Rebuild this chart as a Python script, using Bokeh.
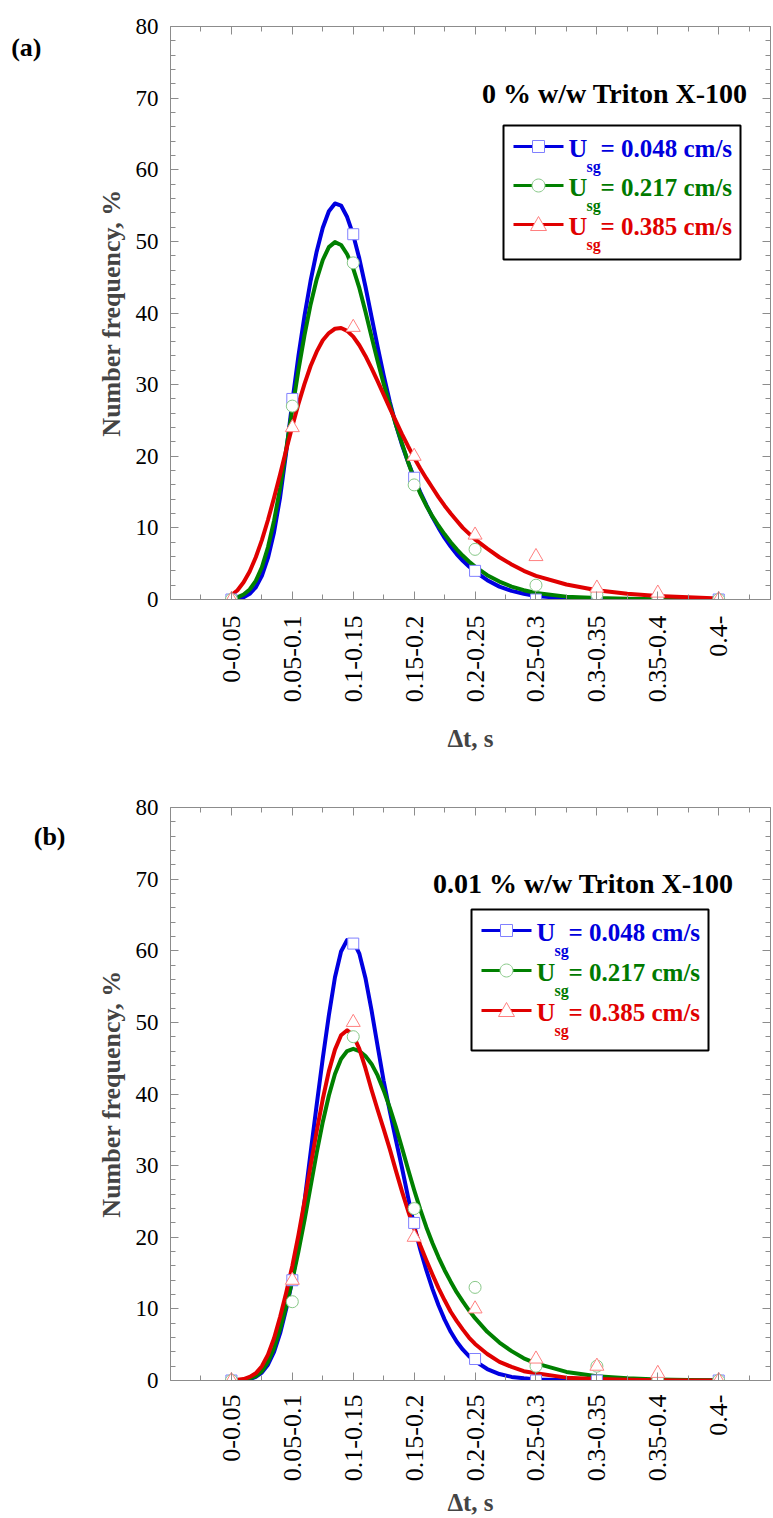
import math
from bokeh.plotting import figure
from bokeh.models import (Range1d, FixedTicker, SingleIntervalTicker, LinearAxis, Label,
                          BoxAnnotation, PolyAnnotation, Arrow)
from bokeh.layouts import column
from bokeh.embed import file_html
from bokeh.resources import INLINE

# ---------------- data ----------------
categories = ["0-0.05", "0.05-0.1", "0.1-0.15", "0.15-0.2", "0.2-0.25",
              "0.25-0.3", "0.3-0.35", "0.35-0.4", "0.4-"]
cat_pos = [1, 2, 3, 4, 5, 6, 7, 8, 9]

series_names = ["0.048", "0.217", "0.385"]

# measured number frequency (%) - panel (a), 0 % w/w Triton X-100
a_blue_pts = [0, 28, 51, 17, 4, 0, 0, 0, 0]
a_green_pts = [0, 27, 47, 16, 7, 2, 0.7, 0, 0]
a_red_pts = [0, 24, 38, 20, 9, 6, 1.6, 0.9, 0]

# measured number frequency (%) - panel (b), 0.01 % w/w Triton X-100
b_blue_pts = [0, 14, 61, 22, 3, 0, 0, 0, 0]
b_green_pts = [0, 11, 48, 24, 13, 2, 2, 0, 0]
b_red_pts = [0, 14, 50, 20, 10, 3, 2, 1, 0]

# fitted curves (x in category positions)
curve_x = [1.0, 1.1, 1.2, 1.3, 1.4, 1.5, 1.6, 1.7, 1.8, 1.9,
           2.0, 2.1, 2.2, 2.3, 2.4, 2.5, 2.6, 2.7, 2.8, 2.9,
           3.0, 3.1, 3.2, 3.3, 3.4, 3.5, 3.6, 3.7, 3.8, 3.9,
           4.0, 4.1, 4.2, 4.3, 4.4, 4.5, 4.6, 4.7, 4.8, 4.9,
           5.0, 5.2, 5.4, 5.6, 5.8, 6.0, 6.5, 7.0, 7.5, 8.0, 8.5, 9.0]

a_blue_fit = [0.0, 0.1, 0.3, 0.8, 1.7, 3.3, 5.8, 9.4, 14.3, 20.6,
              27.6, 34.0, 39.6, 44.5, 48.6, 51.9, 54.2, 55.3, 55.0, 53.4,
              50.9, 47.6, 43.7, 39.5, 35.3, 31.3, 27.6, 24.4, 21.6, 19.2,
              17.0, 15.0, 13.2, 11.5, 10.0, 8.6, 7.4, 6.3, 5.4, 4.6,
              3.9, 2.7, 1.8, 1.2, 0.8, 0.5, 0.15, 0.05, 0.0, 0.0, 0.0, 0.0]
a_green_fit = [0.2, 0.3, 0.7, 1.4, 2.6, 4.5, 7.3, 11.0, 15.6, 21.0,
               26.6, 32.0, 36.9, 41.2, 44.7, 47.4, 49.2, 49.9, 49.5, 48.2,
               46.2, 43.5, 40.2, 36.7, 33.3, 30.1, 27.2, 24.4, 21.8, 19.2,
               16.8, 14.8, 13.1, 11.6, 10.3, 9.1, 8.0, 7.0, 6.1, 5.3,
               4.6, 3.4, 2.5, 1.8, 1.3, 0.9, 0.4, 0.2, 0.1, 0.05, 0.02, 0.0]
a_red_fit = [0.6, 1.3, 2.4, 3.9, 5.9, 8.3, 11.1, 14.2, 17.5, 20.9,
             24.2, 27.3, 30.1, 32.6, 34.6, 36.2, 37.2, 37.8, 37.9, 37.5,
             36.7, 35.5, 34.0, 32.3, 30.5, 28.6, 26.7, 24.9, 23.1, 21.4,
             19.8, 18.3, 16.9, 15.6, 14.3, 13.1, 12.0, 11.0, 10.0, 9.2,
             8.4, 7.1, 5.9, 4.9, 4.0, 3.3, 2.1, 1.3, 0.8, 0.5, 0.3, 0.15]

b_blue_fit = [0.0, 0.0, 0.1, 0.2, 0.5, 1.1, 2.2, 4.0, 6.6, 10.0,
              14.0, 19.0, 25.0, 31.8, 38.5, 45.0, 51.0, 56.3, 59.9, 61.5,
              61.3, 59.6, 56.2, 51.7, 46.7, 41.8, 37.6, 33.6, 29.7, 25.6,
              21.6, 18.3, 15.4, 12.8, 10.5, 8.5, 6.8, 5.4, 4.3, 3.4,
              2.7, 1.6, 0.9, 0.5, 0.3, 0.15, 0.05, 0.0, 0.0, 0.0, 0.0, 0.0]
b_green_fit = [0.0, 0.0, 0.1, 0.3, 0.6, 1.3, 2.6, 4.5, 7.2, 10.4,
               14.0, 18.0, 22.4, 27.1, 31.8, 36.1, 39.8, 42.8, 44.9, 46.0,
               46.3, 46.0, 45.3, 44.2, 42.6, 40.5, 38.1, 35.4, 32.5, 29.5,
               26.6, 23.9, 21.4, 19.2, 17.2, 15.4, 13.8, 12.3, 11.0, 9.8,
               8.7, 6.8, 5.3, 4.1, 3.1, 2.4, 1.2, 0.6, 0.3, 0.15, 0.08, 0.04]
b_red_fit = [0.0, 0.1, 0.2, 0.5, 1.0, 2.0, 3.6, 5.9, 8.9, 12.3,
             16.0, 20.3, 25.0, 30.0, 34.8, 39.3, 43.2, 46.2, 48.2, 48.9,
             48.2, 46.3, 43.6, 40.6, 37.8, 35.1, 32.3, 29.3, 26.4, 23.7,
             21.2, 18.9, 16.8, 14.8, 12.9, 11.2, 9.6, 8.3, 7.1, 6.0,
             5.1, 3.7, 2.6, 1.9, 1.3, 1.0, 0.4, 0.2, 0.1, 0.05, 0.0, 0.0]

# ---------------- style ----------------
FONT = "Liberation Serif"
AXC = "#8c8c8c"
X_END = 9.85
FRAME_W, FRAME_H = 600, 573
LINE_COLORS = ["#0000e0", "#008000", "#e00000"]
TEXT_COLORS = ["#0000dd", "#007a00", "#e00000"]
EDGE_COLORS = ["#8080ff", "#88c888", "#ff8080"]
MARKERS = ["square", "circle", "triangle"]
MSIZES = [11, 12, 14]


def dx(px):
    """pixel offset from frame left -> data x"""
    return px * X_END / FRAME_W


def dy(py):
    """pixel offset below frame top -> data y"""
    return 80.0 * (FRAME_H - py) / FRAME_H


def style_axis(ax, ticker, labels):
    ax.ticker = ticker
    ax.axis_line_color = AXC
    ax.major_tick_line_color = AXC
    ax.minor_tick_line_color = AXC
    ax.major_tick_in = 8
    ax.major_tick_out = 0
    ax.minor_tick_in = 5
    ax.minor_tick_out = 0
    if not labels:
        ax.major_label_text_font_size = "0px"
        ax.major_label_standoff = 0
        ax.major_label_text_color = None
    else:
        ax.major_label_text_font = FONT
        ax.major_label_text_color = "black"


def x_ticker():
    return FixedTicker(ticks=cat_pos, minor_ticks=[c - 0.5 for c in cat_pos] + [cat_pos[-1] + 0.5])


def y_ticker():
    return SingleIntervalTicker(interval=10, num_minor_ticks=5)


def make_panel(tag, title, pts, fits, top_border, bottom_border, lay):
    p = figure(frame_width=FRAME_W, frame_height=FRAME_H,
               x_range=Range1d(0, X_END), y_range=Range1d(0, 80),
               output_backend="svg", toolbar_location=None,
               min_border_left=170, min_border_right=3,
               min_border_top=top_border, min_border_bottom=bottom_border,
               background_fill_color="white", border_fill_color="white",
               outline_line_color=None)
    p.grid.visible = False

    xa = p.xaxis[0]
    style_axis(xa, x_ticker(), True)
    xa.major_label_overrides = {c: lab for c, lab in zip(cat_pos, categories)}
    xa.major_label_orientation = math.pi / 2
    xa.major_label_text_font_size = "26px"
    xa.major_label_standoff = lay["xlab_standoff"]
    xa.axis_label = "Δt, s"
    xa.axis_label_text_font = FONT
    xa.axis_label_text_font_style = "bold"
    xa.axis_label_text_font_size = "25px"
    xa.axis_label_standoff = lay["xaxis_label_standoff"]

    ya = p.yaxis[0]
    style_axis(ya, y_ticker(), True)
    ya.major_label_text_font_size = "23px"
    ya.major_label_standoff = 12
    ya.axis_label = "Number frequency, %"
    ya.axis_label_text_font = FONT
    ya.axis_label_text_font_style = "bold"
    ya.axis_label_text_font_size = "26px"
    ya.axis_label_standoff = 7

    # panel tag "(a)" / "(b)" placed as the single label of an extra, bare left axis
    tag_ax = LinearAxis(ticker=FixedTicker(ticks=[lay["tag_y"]]),
                        major_label_overrides={lay["tag_y"]: tag})
    tag_ax.axis_line_color = None
    tag_ax.major_tick_line_color = None
    tag_ax.minor_tick_line_color = None
    tag_ax.major_tick_in = 0
    tag_ax.major_tick_out = 0
    tag_ax.major_label_text_font = FONT
    tag_ax.major_label_text_font_style = "bold"
    tag_ax.major_label_text_font_size = "26px"
    tag_ax.major_label_text_color = "black"
    tag_ax.major_label_standoff = lay["tag_standoff"]
    p.add_layout(tag_ax, "left")

    top_ax = LinearAxis()
    style_axis(top_ax, x_ticker(), False)
    p.add_layout(top_ax, "above")
    right_ax = LinearAxis()
    style_axis(right_ax, y_ticker(), False)
    p.add_layout(right_ax, "right")

    for fit, col in zip(fits, LINE_COLORS):
        p.line(curve_x, fit, line_color=col, line_width=4, line_join="round", line_cap="round")
    for vals, mk, sz, edge in zip(pts, MARKERS, MSIZES, EDGE_COLORS):
        p.scatter(cat_pos, vals, marker=mk, size=sz, fill_color="white",
                  line_color=edge, line_width=1)

    # title
    p.add_layout(Label(x=dx(lay["title_x"]), y=dy(lay["title_y"]), text=title,
                       text_font=FONT, text_font_style="bold", text_font_size="28px",
                       text_align="right", text_baseline="middle", text_color="black"))

    # legend box
    L = lay["box_l"]
    p.add_layout(BoxAnnotation(left=dx(L), right=dx(L + 237),
                               top=dy(lay["box_t"]), bottom=dy(lay["box_b"]),
                               fill_color="white", fill_alpha=1.0,
                               line_color="black", line_width=2, line_alpha=1.0))
    for i, (name, lc, tc, ec) in enumerate(zip(series_names, LINE_COLORS, TEXT_COLORS, EDGE_COLORS)):
        ey = lay["entry0"] + i * lay["entry_step"]
        ly = ey - 2
        p.add_layout(Arrow(x_start=dx(L + 10), y_start=dy(ly), x_end=dx(L + 60), y_end=dy(ly),
                           start=None, end=None, line_color=lc, line_width=3))
        cx, cy = L + 35, ly
        if i == 0:
            p.add_layout(BoxAnnotation(left=dx(cx - 6), right=dx(cx + 6),
                                       top=dy(cy - 6), bottom=dy(cy + 6),
                                       fill_color="white", fill_alpha=1.0,
                                       line_color=ec, line_width=1, line_alpha=1.0))
        elif i == 1:
            n = 28
            xs = [dx(cx + 6.5 * math.cos(2 * math.pi * k / n)) for k in range(n)]
            ys = [dy(cy + 6.5 * math.sin(2 * math.pi * k / n)) for k in range(n)]
            p.add_layout(PolyAnnotation(xs=xs, ys=ys, fill_color="white", fill_alpha=1.0,
                                        line_color=ec, line_width=1, line_alpha=1.0))
        else:
            xs = [dx(cx - 8), dx(cx + 8), dx(cx)]
            ys = [dy(cy + 6), dy(cy + 6), dy(cy - 8)]
            p.add_layout(PolyAnnotation(xs=xs, ys=ys, fill_color="white", fill_alpha=1.0,
                                        line_color=ec, line_width=1, line_alpha=1.0))
        p.add_layout(Label(x=dx(L + 65), y=dy(ey), text="U", text_font=FONT,
                           text_font_style="bold", text_font_size="26px", text_color=tc,
                           text_align="left", text_baseline="middle"))
        p.add_layout(Label(x=dx(L + 83), y=dy(ey + 18), text="sg", text_font=FONT,
                           text_font_style="bold", text_font_size="16px", text_color=tc,
                           text_align="left", text_baseline="middle"))
        p.add_layout(Label(x=dx(L + 97), y=dy(ey), text="= " + name + " cm/s", text_font=FONT,
                           text_font_style="bold", text_font_size="25px", text_color=tc,
                           text_align="left", text_baseline="middle"))
    return p


lay_a = dict(tag_y=77, tag_standoff=52, title_x=747 - 170, title_y=93 - 26,
             box_l=503 - 170, box_t=125 - 26, box_b=259 - 26, entry0=148 - 26, entry_step=39,
             xlab_standoff=16, xaxis_label_standoff=20)
lay_b = dict(tag_y=76, tag_standoff=28, title_x=733 - 170, title_y=883 - 807,
             box_l=471 - 170, box_t=909 - 807, box_b=1050 - 807, entry0=932 - 807, entry_step=40,
             xlab_standoff=14, xaxis_label_standoff=5)

p1 = make_panel("(a)", "0 % w/w Triton X-100",
                [a_blue_pts, a_green_pts, a_red_pts],
                [a_blue_fit, a_green_fit, a_red_fit], 26, 182, lay_a)
p2 = make_panel("(b)", "0.01 % w/w Triton X-100",
                [b_blue_pts, b_green_pts, b_red_pts],
                [b_blue_fit, b_green_fit, b_red_fit], 26, 136, lay_b)

layout = column(p1, p2, spacing=0)
open("out.html", "w").write(file_html(layout, INLINE))
